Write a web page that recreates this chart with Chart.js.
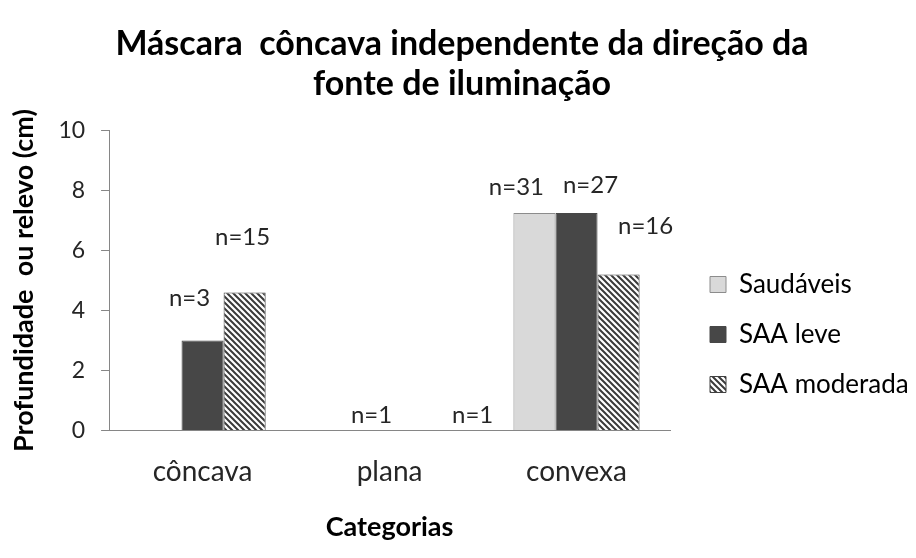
<!DOCTYPE html>
<html>
<head>
<meta charset="utf-8">
<script src="https://cdn.jsdelivr.net/npm/chart.js@4.4.0/dist/chart.umd.min.js"></script>
<style>
  html, body { margin: 0; padding: 0; background: #fff; }
  #wrap { width: 916px; height: 558px; }
</style>
</head>
<body>
<div id="wrap"><canvas id="chart"></canvas></div>
<script>
// dados
var categorias = ['côncava', 'plana', 'convexa'];
var saudaveis  = [null, null, 7.25];
var saaLeve    = [3.0, 0, 7.25];
var saaMod     = [4.6, 0, 5.2];
// rótulos n= de cada barra
var nSaud = ['', '', 'n=31'];
var nLeve = ['n=3', 'n=1', 'n=27'];
var nMod  = ['n=15', 'n=1', 'n=16'];

var FONTE = 'Lato, "Open Sans", sans-serif';

// padrão hachurado (listras diagonais)
function hachura() {
    var c = document.createElement('canvas');
    c.width = 6; c.height = 6;
    var g = c.getContext('2d');
    g.fillStyle = '#ffffff';
    g.fillRect(0, 0, 6, 6);
    g.strokeStyle = '#3a3a3a';
    g.lineWidth = 2;
    g.beginPath();
    g.moveTo(-3, -3); g.lineTo(9, 9);
    g.moveTo(-3, 3);  g.lineTo(3, 9);
    g.moveTo(3, -3);  g.lineTo(9, 3);
    g.stroke();
    return g.createPattern(c, 'repeat');
}

// escreve os "n=" acima das barras
var rotulosN = {
    id: 'rotulosN',
    afterDatasetsDraw: function (chart, args, opts) {
        var ctx = chart.ctx;
        var y = chart.scales.y;
        ctx.save();
        ctx.font = opts.size + 'px ' + FONTE;
        ctx.fillStyle = '#262626';
        ctx.textAlign = 'center';
        ctx.textBaseline = 'middle';
        chart.data.datasets.forEach(function (ds, i) {
            var meta = chart.getDatasetMeta(i);
            ds.rotulos.forEach(function (txt, j) {
                if (!txt) return;
                var bar = meta.data[j];
                var topo = y.getPixelForValue(ds.data[j] || 0);
                var off = opts.desloc[i][j];
                ctx.fillText(txt, bar.x + off[0], topo + off[1]);
            });
        });
        ctx.restore();
    }
};

// afasta a legenda da área do gráfico e recentra o título
var ajusteLayout = {
    id: 'ajusteLayout',
    afterLayout: function (chart, args, opts) {
        chart.legend.left += opts.legendaDx;
        chart.legend.right += opts.legendaDx;
        chart.titleBlock.left += opts.tituloDx;
        chart.titleBlock.right += opts.tituloDx;
    }
};

new Chart(document.getElementById('chart'), {
    type: 'bar',
    data: {
        labels: categorias,
        datasets: [{
            label: 'Saudáveis',
            data: saudaveis,
            rotulos: nSaud,
            backgroundColor: '#d9d9d9',
            borderColor: '#8c8c8c',
            borderWidth: 1
        }, {
            label: 'SAA leve',
            data: saaLeve,
            rotulos: nLeve,
            backgroundColor: '#474747',
            borderColor: '#474747',
            borderWidth: 1
        }, {
            label: 'SAA moderada',
            data: saaMod,
            rotulos: nMod,
            backgroundColor: hachura(),
            borderColor: '#404040',
            borderWidth: 1
        }]
    },
    options: {
        responsive: true,
        maintainAspectRatio: false,
        animation: false,
        categoryPercentage: 0.675,
        barPercentage: 1,
        layout: { padding: { top: 24, right: 24, left: 4, bottom: 17 } },
        plugins: {
            title: {
                display: true,
                text: ['Máscara  côncava independente da direção da', 'fonte de iluminação'],
                color: '#000',
                font: { family: FONTE, size: 34, weight: 'bold', lineHeight: 1.17 },
                padding: { top: 0, bottom: 27 }
            },
            legend: {
                position: 'right',
                align: 'center',
                title: { display: true, text: '', font: { size: 10 }, padding: { top: 46, bottom: 46 } },
                labels: {
                    color: '#000',
                    font: { family: FONTE, size: 26 },
                    boxWidth: 16,
                    boxHeight: 16,
                    padding: 24
                }
            },
            ajusteLayout: { legendaDx: 16, tituloDx: 14 },
            tooltip: { enabled: false },
            rotulosN: {
                size: 24,
                desloc: [
                    [[0, 0], [0, 0], [-18, -26]],
                    [[-13, -42], [-18, -15], [14, -28]],
                    [[-2, -55], [41, -15], [27, -48]]
                ]
            }
        },
        scales: {
            x: {
                grid: { display: false, drawTicks: false },
                border: { display: true, color: '#868686', width: 1 },
                ticks: { color: '#262626', font: { family: FONTE, size: 28 }, padding: 25 },
                title: {
                    display: true,
                    text: 'Categorias',
                    color: '#000',
                    font: { family: FONTE, size: 27, weight: 'bold', lineHeight: 1.0 },
                    padding: { top: 0, bottom: 0 }
                }
            },
            y: {
                min: 0,
                max: 10,
                ticks: { stepSize: 2, color: '#262626', font: { family: FONTE, size: 23 }, padding: 16 },
                grid: { drawOnChartArea: false, drawTicks: true, tickLength: 8, color: '#868686' },
                border: { display: true, color: '#868686', width: 1 },
                title: {
                    display: true,
                    text: 'Profundidade  ou relevo (cm)',
                    color: '#000',
                    font: { family: FONTE, size: 27, weight: 'bold' },
                    padding: { bottom: 2 }
                }
            }
        }
    },
    plugins: [rotulosN, ajusteLayout]
});
</script>
</body>
</html>
